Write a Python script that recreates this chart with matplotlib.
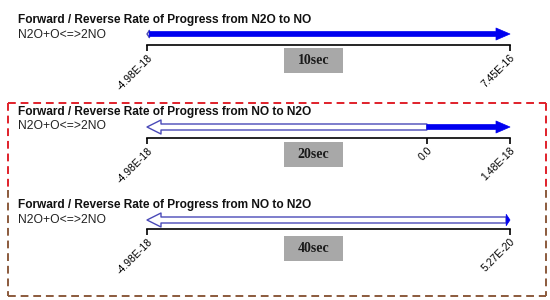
import matplotlib
matplotlib.use("Agg")
import matplotlib.pyplot as plt
from matplotlib.patches import FancyArrowPatch, Rectangle
from matplotlib.lines import Line2D

# data
titles = ["Forward / Reverse Rate of Progress from N2O to NO",
          "Forward / Reverse Rate of Progress from NO to N2O",
          "Forward / Reverse Rate of Progress from NO to N2O"]
reaction = "N2O+O<=>2NO"
times = ["10sec", "20sec", "40sec"]
rate_min = [-4.98e-18, -4.98e-18, -4.98e-18]
rate_max = [7.45e-16, 1.48e-18, 5.27e-20]
tick_vals = [[-4.98e-18, 7.45e-16], [-4.98e-18, 0.0, 1.48e-18], [-4.98e-18, 5.27e-20]]
tick_txt = [["-4.98E-18", "7.45E-16"], ["-4.98E-18", "0.0", "1.48E-18"], ["-4.98E-18", "5.27E-20"]]

W, H = 550, 300
plt.rcParams['font.family'] = ['Liberation Sans', 'DejaVu Sans']
fig = plt.figure(figsize=(5.5, 3), dpi=100)

def fx(x):
    return x / W

def fy(y):
    return 1 - y / H

def px2pt(p):
    return p * 72 / 100

# pixel rows of each panel
title_y = [20, 112, 205]
sub_y = [35, 126, 220]
arrow_y = [34, 127, 220]
axis_y = [45, 138, 229]
box_y = [48, 142, 236]
x0, x1 = 147, 510

for i in range(3):
    fig.text(fx(18), fy(title_y[i]), titles[i], fontsize=8.6, fontweight='bold',
             va='center', ha='left', color='#111111')
    fig.text(fx(18), fy(sub_y[i]), reaction, fontsize=8.7, va='center', ha='left',
             color='#222222')

    h = axis_y[i] - arrow_y[i] + 10
    ax = fig.add_axes([fx(x0), fy(axis_y[i]), fx(x1 - x0), h / H])
    ax.set_xlim(rate_min[i], rate_max[i])
    ax.set_ylim(0, h)
    ax.patch.set_alpha(0)
    for s in ['top', 'left', 'right']:
        ax.spines[s].set_visible(False)
    ax.spines['bottom'].set_linewidth(1.2)
    ax.set_yticks([])
    ax.set_xticks(tick_vals[i])
    ax.set_xticklabels(tick_txt[i], rotation=45, ha='right', va='top',
                       rotation_mode='anchor', fontsize=7.5)
    ax.tick_params(axis='x', length=4, width=1.2, pad=1.5)

    yarr = axis_y[i] - arrow_y[i]
    scale = (x1 - x0) / (rate_max[i] - rate_min[i])

    # reverse (hollow) arrow from 0 to min
    rlen = -rate_min[i] * scale
    hl = min(14, rlen)
    hw = min(14, max(6, rlen * 3))
    rev = FancyArrowPatch((0, yarr), (rate_min[i], yarr),
                          arrowstyle="simple,head_length=%.2f,head_width=%.2f,tail_width=%.2f"
                          % (px2pt(hl), px2pt(hw), px2pt(6)),
                          mutation_scale=1, shrinkA=0, shrinkB=0,
                          fc='white', ec='#4a4ab8', lw=1, clip_on=False)
    ax.add_patch(rev)

    # forward (solid) arrow from 0 to max
    flen = rate_max[i] * scale
    hl = min(14, flen)
    hw = min(12, max(6, flen * 3))
    tw = min(5, flen * 2) if flen < 14 else 5
    fwd = FancyArrowPatch((0, yarr), (rate_max[i], yarr),
                          arrowstyle="simple,head_length=%.2f,head_width=%.2f,tail_width=%.2f"
                          % (px2pt(hl), px2pt(hw), px2pt(tw)),
                          mutation_scale=1, shrinkA=0, shrinkB=0,
                          fc='#0000f0', ec='#0000f0', lw=0.5, clip_on=False)
    ax.add_patch(fwd)

    # time box
    fig.add_artist(Rectangle((fx(284), fy(box_y[i] + 25)), fx(59), 25 / H,
                             transform=fig.transFigure, fc='#a8a8a8', ec='none'))
    fig.text(fx(313.5), fy(box_y[i] + 12.5), times[i], fontsize=10,
             fontweight='bold', family='Liberation Serif', ha='center',
             va='center', color='#1a1a1a')

# dashed frame around 20sec / 40sec panels
red = '#e0202a'
brown = '#8b5a3c'
dash = dict(ls=(0, (4, 2.5)), lw=1.4, transform=fig.transFigure)
fig.add_artist(Line2D([fx(8), fx(546)], [fy(103), fy(103)], color=red, **dash))
fig.add_artist(Line2D([fx(8), fx(546)], [fy(296), fy(296)], color=brown, **dash))
fig.add_artist(Line2D([fx(8), fx(8)], [fy(103), fy(190)], color=red, **dash))
fig.add_artist(Line2D([fx(8), fx(8)], [fy(190), fy(296)], color=brown, **dash))
fig.add_artist(Line2D([fx(546), fx(546)], [fy(103), fy(190)], color=red, **dash))
fig.add_artist(Line2D([fx(546), fx(546)], [fy(190), fy(296)], color=brown, **dash))

fig.savefig('out.png', dpi=100)
